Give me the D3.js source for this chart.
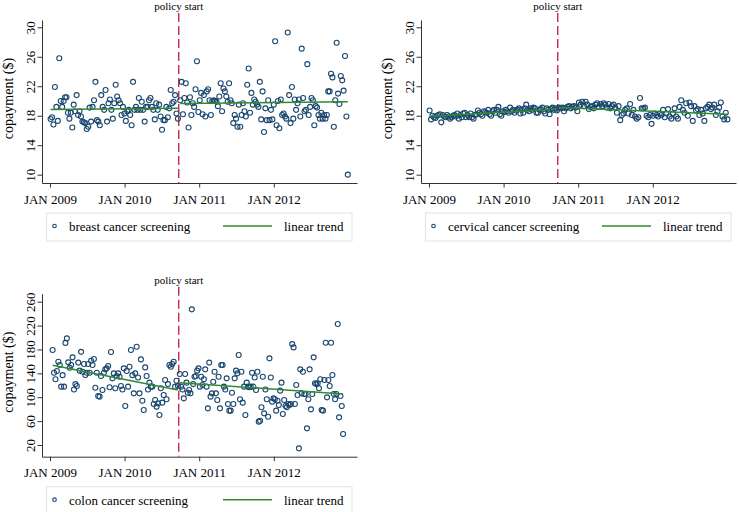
<!DOCTYPE html>
<html>
<head>
<meta charset="utf-8">
<script src="https://cdn.jsdelivr.net/npm/d3@7"></script>
<style>
  body { margin: 0; background: #fff; }
  svg { display: block; font-family: "Liberation Serif", "Times New Roman", serif; }
  .axis path, .axis line { stroke: #333; stroke-width: 1; }
  .axis text { font-size: 13px; fill: #000; font-family: "Liberation Serif", serif; }
</style>
</head>
<body>
<svg width="739" height="512"></svg>
<script>
// dates
const policyDate = new Date(2010, 8, 23);
const tickDates = [new Date(2009, 0, 1), new Date(2010, 0, 1), new Date(2011, 0, 1), new Date(2012, 0, 1)];

// breast cancer screening, weekly copayment ($)
const breastPreRange = [new Date(2009, 0, 4), new Date(2010, 8, 19)];
const breastPre = [17.55,17.8,16.8,21.9,19.2,17.3,25.8,20.0,19.2,20.0,
  20.5,20.5,18.4,17.6,18.4,16.4,19.5,18.6,20.8,18.1,
  18.6,17.9,17.2,17.1,17.0,16.2,16.5,19.1,17.2,19.2,
  20.1,22.6,17.4,17.2,16.7,20.8,19.2,18.8,21.5,17.2,
  19.7,20.2,18.8,17.6,19.7,22.2,20.6,20.1,19.7,18.1,
  19.2,18.3,17.3,18.6,18.8,18.1,16.7,22.6,18.8,19.2,
  18.8,20.4,18.8,19.9,18.8,17.2,19.2,19.2,20.1,20.4,
  19.2,18.8,17.5,19.7,18.8,19.5,17.9,16.1,17.4,17.4,
  19.2,17.8,19.0,21.5,19.7,19.9,20.8,18.3,17.6];
const breastPostRange = [new Date(2010, 8, 30), new Date(2012, 11, 28)];
const breastPost = [20.1,22.6,18.2,20.4,22.4,19.8,16.4,20.5,18.1,19.7,
  19.2,21.6,25.4,18.5,20.1,21.1,18.2,20.8,17.9,21.3,
  21.6,20.1,18.1,20.0,20.1,20.0,19.9,19.3,20.6,22.4,
  18.6,21.7,21.3,20.6,19.9,22.4,20.1,19.7,17.0,18.1,
  17.6,16.5,19.5,16.5,18.1,19.7,18.6,17.9,22.2,24.4,
  18.4,21.1,19.5,20.2,19.9,19.5,19.2,22.6,17.5,21.3,
  15.8,19.0,17.4,20.1,17.4,18.8,17.5,19.5,28.1,16.7,
  20.0,16.3,20.2,18.1,18.3,17.9,17.6,29.3,20.8,17.0,
  21.9,17.6,20.2,18.8,19.7,20.2,17.9,27.1,20.4,18.6,
  18.8,25.0,18.1,19.2,20.4,20.1,16.7,19.3,19.1,18.1,
  17.6,18.4,17.6,18.1,17.6,18.1,21.3,21.3,23.7,23.2,
  16.5,20.1,27.9,21.0,19.6,23.4,22.8,21.4,26.1,17.9,10.0];
const breastTrendPre = [18.85, 19.0];
const breastTrendPost = [19.65, 19.9];

// cervical cancer screening
const cervicalPreRange = [new Date(2009, 0, 4), new Date(2010, 8, 19)];
const cervicalPre = [18.7,17.5,18.0,17.8,17.7,18.0,18.1,18.2,17.1,18.1,
  17.9,17.8,18.1,17.9,17.6,17.8,18.0,18.1,17.9,18.3,
  17.6,18.1,17.8,18.3,18.4,17.8,18.1,17.8,18.3,17.8,
  17.6,18.1,18.2,18.7,18.4,18.2,18.0,18.6,18.5,18.4,
  18.8,18.2,18.0,18.6,18.8,18.4,18.8,19.2,18.2,18.0,
  18.6,18.5,18.8,18.6,18.4,19.1,18.6,18.8,18.4,18.7,
  18.8,19.0,18.3,18.8,18.4,19.0,19.5,18.8,18.6,19.0,
  18.8,19.1,19.0,18.4,18.4,18.8,18.9,19.1,18.6,18.3,
  19.0,18.8,18.2,18.9,19.1,18.8,19.0,18.7];
const cervicalPostRange = [new Date(2010, 8, 30), new Date(2012, 11, 31)];
const cervicalPost = [19.1,19.0,19.1,18.6,19.0,19.2,19.3,19.0,19.2,19.3,
  19.1,18.6,19.8,19.5,19.9,19.3,19.9,19.5,18.9,19.2,
  19.3,19.0,19.5,19.7,19.2,19.6,19.3,19.7,19.5,19.1,
  19.6,19.0,19.3,19.5,19.1,18.4,19.3,17.4,18.1,18.3,
  18.8,19.0,18.3,19.6,18.1,18.8,17.9,17.6,17.8,20.4,
  19.0,19.0,19.1,18.0,17.8,18.1,16.9,18.0,18.3,18.1,
  17.9,18.3,18.1,18.8,17.8,18.3,18.9,17.9,17.6,18.3,
  19.0,17.9,17.6,19.2,20.1,18.8,18.4,19.7,18.0,19.8,
  19.3,17.3,19.3,18.7,18.9,18.1,18.8,18.3,17.3,19.0,
  19.2,19.5,18.9,19.1,19.5,18.1,18.6,19.1,19.8,17.9,
  17.5,18.4,17.5];
const cervicalTrendPre = [17.9, 18.9];
const cervicalTrendPost = [19.1, 18.2];

// colon cancer screening
const colonPreRange = [new Date(2009, 0, 14), new Date(2010, 8, 19)];
const colonPre = [179,141,130,144,159.5,154,117.7,137,117.7,191,
  198.6,158.4,149.5,154,166.8,113,122,118.8,158,144.5,
  176,142.8,155.6,137.2,141,155.6,141,161,154,164,
  116,141,102,101,135.5,112,141,146.7,148.4,152.3,
  116.6,175.7,131.6,140,115,135.5,140,134.4,118.8,113,
  148.4,85.3,144,117.7,151,179,137,106.5,140,184.6,
  133,106.5,163.4,94.2,78.6,150,135.5,113,124.4,117.7,
  117.7,88.6,95.3,84.2,89.7,70.2,115,90.9,103.7,128.8,
  96.5,122,154,151,155.6,159.5,117.7,127.7,119.3];
const colonPostRange = [new Date(2010, 8, 28), new Date(2012, 11, 5)];
const colonPost = [138.9,117.7,113,98.1,138.9,124.4,107.6,112,106.5,247.2,
  122,134.4,135.5,144.5,148.4,117.7,134.4,120.5,130,146.7,
  117.7,81.4,158,101,106.5,126,142.8,106.5,95.3,134.4,
  81.4,154,154,117.7,113,131.6,88.6,77.5,77.5,107.6,
  88.6,131.6,144.5,140,170.7,96.5,142.8,90.9,117.7,70.2,
  124.4,117.7,116.6,117.7,141,117.7,133,112,142.8,59.1,
  60.7,83.1,134.4,73,113,96.5,67.4,165.1,133,92.6,
  98.1,96.5,77.5,94.2,87,111,124.4,71.9,95.3,85.3,
  83.1,88.6,87,88.6,189,183.5,88.6,120.5,103.7,14.4,
  146.7,106.5,142.8,105.4,105.4,47.9,96.5,146.7,79.7,105.4,
  166.8,123.3,122,123.3,115,130,78.6,77.5,128.8,191.3,
  99.8,128.8,118.8,191.3,137.2,105.4,96.5,105.4,222.6,66.3,
  102,85.3,38.4];
const colonTrendPre = [153.4, 112];
const colonTrendPost = [124.4, 105.4];

const copayTicks = [10, 14, 18, 22, 26, 30];
const colonTicks = [20, 60, 100, 140, 180, 220, 260];

const NAVY = "#1a476f";
const GREEN = "#2e8b2e";
const RED = "#c4173f";

const svg = d3.select("svg");

// shared layout of one panel (inner coords)
const plotLeft = 42, plotRight = 357, plotTop = 20, plotBottom = 183;

const panels = [
  {dx: 0, dy: 0, label: "breast cancer screening", yDomain: [8.87, 30.99], ticks: copayTicks,
   pre: breastPre, preRange: breastPreRange, post: breastPost, postRange: breastPostRange,
   trendPre: breastTrendPre, trendPost: breastTrendPost},
  {dx: 379, dy: 0, label: "cervical cancer screening", yDomain: [8.87, 30.99], ticks: copayTicks,
   pre: cervicalPre, preRange: cervicalPreRange, post: cervicalPost, postRange: cervicalPostRange,
   trendPre: cervicalTrendPre, trendPost: cervicalTrendPost},
  {dx: 0, dy: 273.7, label: "colon cancer screening", yDomain: [0.4, 273.4], ticks: colonTicks,
   pre: colonPre, preRange: colonPreRange, post: colonPost, postRange: colonPostRange,
   trendPre: colonTrendPre, trendPost: colonTrendPost}
];

function spread (values, range) {
    let a = +range[0], b = +range[1];
    return values.map((v, i) => ({date: new Date(a + i * (b - a) / (values.length - 1)), value: v}));
}

panels.forEach(p => drawPanel(p));

function drawPanel (p) {
    const g = svg.append("g").attr("transform", `translate(${p.dx},${p.dy})`);

    const x = d3.scaleTime()
        .domain([new Date(2008, 10, 23), new Date(2013, 1, 11)])
        .range([plotLeft, plotRight]);
    const y = d3.scaleLinear().domain(p.yDomain).range([plotBottom, plotTop]);

    // axes
    g.append("g")
        .attr("class", "axis")
        .attr("transform", `translate(0,${plotBottom})`)
        .call(d3.axisBottom(x)
            .tickValues(tickDates)
            .tickSize(4.5)
            .tickSizeOuter(0)
            .tickPadding(7)
            .tickFormat(d => d3.timeFormat("%b %Y")(d).toUpperCase()));

    const ya = g.append("g")
        .attr("class", "axis")
        .attr("transform", `translate(${plotLeft},0)`)
        .call(d3.axisLeft(y).tickValues(p.ticks).tickSize(4.5).tickSizeOuter(0));
    ya.selectAll(".tick text")
        .attr("transform", "rotate(-90)")
        .attr("x", 0)
        .attr("y", -7)
        .attr("dy", 0)
        .attr("text-anchor", "middle");

    g.append("text")
        .attr("transform", `translate(13,${(plotTop + plotBottom) / 2 - 3}) rotate(-90)`)
        .attr("text-anchor", "middle")
        .attr("font-size", 14)
        .text("copayment ($)");

    // policy start
    g.append("line")
        .attr("x1", x(policyDate)).attr("x2", x(policyDate))
        .attr("y1", 13).attr("y2", plotBottom)
        .attr("stroke", RED)
        .attr("stroke-width", 1.3)
        .attr("stroke-dasharray", "9,4");
    g.append("text")
        .attr("x", x(policyDate))
        .attr("y", 10)
        .attr("text-anchor", "middle")
        .attr("font-size", 11)
        .text("policy start");

    // points
    const pts = spread(p.pre, p.preRange).concat(spread(p.post, p.postRange));
    g.append("g").selectAll("circle")
            .data(pts)
        .enter().append("circle")
            .attr("cx", d => x(d.date))
            .attr("cy", d => y(d.value))
            .attr("r", 2.5)
            .attr("fill", "none")
            .attr("stroke", NAVY)
            .attr("stroke-width", 1.1);

    // trend segments
    const segs = [
        [{date: p.preRange[0], value: p.trendPre[0]}, {date: p.preRange[1], value: p.trendPre[1]}],
        [{date: p.postRange[0], value: p.trendPost[0]}, {date: p.postRange[1], value: p.trendPost[1]}]
    ];
    const line = d3.line().x(d => x(d.date)).y(d => y(d.value));
    g.selectAll("path.trend")
            .data(segs)
        .enter().append("path")
            .attr("class", "trend")
            .attr("d", line)
            .attr("fill", "none")
            .attr("stroke", GREEN)
            .attr("stroke-width", 1.5);

    // legend
    const lg = g.append("g").attr("transform", `translate(0,${plotBottom})`);
    lg.append("rect")
        .attr("x", 46.5).attr("y", 30)
        .attr("width", 305.5).attr("height", 28)
        .attr("fill", "#fff")
        .attr("stroke", "#dde4ea")
        .attr("stroke-width", 1);
    lg.append("circle")
        .attr("cx", 54.5).attr("cy", 43)
        .attr("r", 1.8)
        .attr("fill", "none")
        .attr("stroke", NAVY)
        .attr("stroke-width", 1.1);
    lg.append("text")
        .attr("x", 69).attr("y", 48)
        .attr("font-size", 13)
        .text(p.label);
    lg.append("line")
        .attr("x1", 223).attr("x2", 272)
        .attr("y1", 43).attr("y2", 43)
        .attr("stroke", GREEN)
        .attr("stroke-width", 1.5);
    lg.append("text")
        .attr("x", 284).attr("y", 48)
        .attr("font-size", 13)
        .text("linear trend");
}
</script>
</body>
</html>
